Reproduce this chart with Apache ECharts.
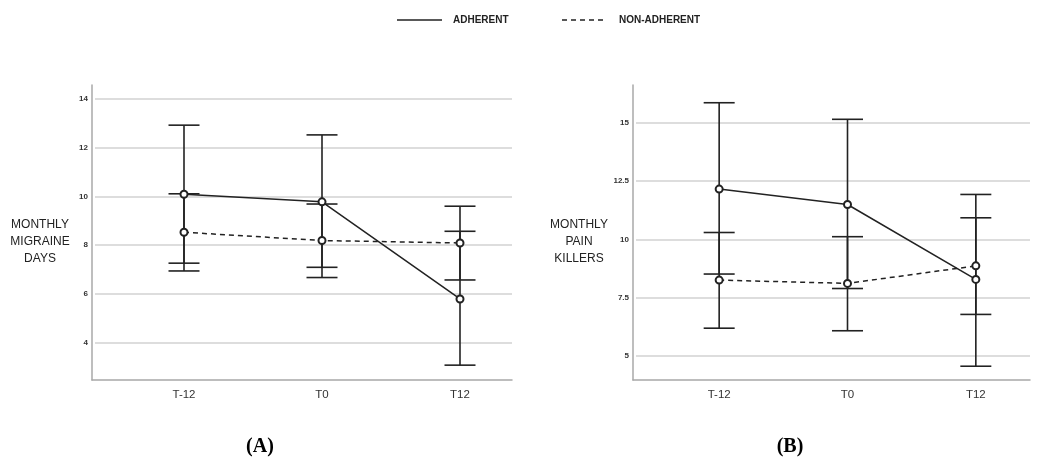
<!DOCTYPE html>
<html><head><meta charset="utf-8">
<script src="https://cdn.jsdelivr.net/npm/echarts@6/dist/echarts.min.js"></script>
<style>html,body{margin:0;padding:0;background:#fff}#c{width:1040px;height:457px}</style>
</head><body><div id="c"></div>
<script>
// ---- data ----
const categories = ['T-12', 'T0', 'T12'];
const seriesNames = ['ADHERENT', 'NON-ADHERENT'];

// Panel A: monthly migraine days
const migraineAdherentMean = [10.08, 9.77, 5.78];
const migraineAdherentLow  = [7.25, 7.08, 3.06];
const migraineAdherentHigh = [12.92, 12.52, 8.56];
const migraineNonMean = [8.52, 8.18, 8.08];
const migraineNonLow  = [6.93, 6.66, 6.56];
const migraineNonHigh = [10.10, 9.68, 9.59];
const migraineTicks = [4, 6, 8, 10, 12, 14];

// Panel B: monthly pain killers
const painAdherentMean = [12.13, 11.47, 8.26];
const painAdherentLow  = [8.49, 7.87, 4.54];
const painAdherentHigh = [15.83, 15.12, 11.90];
const painNonMean = [8.23, 8.09, 8.84];
const painNonLow  = [6.17, 6.06, 6.76];
const painNonHigh = [10.27, 10.09, 10.90];
const painTicks = [5, 7.5, 10, 12.5, 15];

const yTitles = ['MONTHLY\nMIGRAINE\nDAYS', 'MONTHLY\nPAIN\nKILLERS'];
const panelLabels = ['A', 'B'];

// ---- layout ----
const INK = '#222';
const panels = [
  {
    frame: {left: 92, top: 85, width: 420, height: 295}, range: [2.45, 14.57],
    ticksGrid: {left: 95, top: 98.9, width: 417, height: 243.5},
    dataGrid: {left: 115, top: 85, width: 414, height: 295},
    ticks: migraineTicks,
    adh: [migraineAdherentMean, migraineAdherentLow, migraineAdherentHigh],
    non: [migraineNonMean, migraineNonLow, migraineNonHigh],
    titleX: 40, labelX: 260
  },
  {
    frame: {left: 633, top: 85, width: 397, height: 295}, range: [3.95, 16.59],
    ticksGrid: {left: 636, top: 122.7, width: 394, height: 233.3},
    dataGrid: {left: 655, top: 85, width: 403.5, height: 295},
    ticks: painTicks,
    adh: [painAdherentMean, painAdherentLow, painAdherentHigh],
    non: [painNonMean, painNonLow, painNonHigh],
    titleX: 579, labelX: 790
  }
];

const grid = [], xAxis = [], yAxis = [], series = [], graphic = [];

function errRender(params, api) {
  const x = api.value(0), lo = api.value(1), hi = api.value(2);
  const a = api.coord([x, lo]), b = api.coord([x, hi]);
  const hw = 15.5;
  const style = {stroke: INK, lineWidth: 1.6};
  return {type: 'group', children: [
    {type: 'line', shape: {x1: a[0], y1: a[1], x2: b[0], y2: b[1]}, style},
    {type: 'line', shape: {x1: a[0] - hw, y1: a[1], x2: a[0] + hw, y2: a[1]}, style},
    {type: 'line', shape: {x1: b[0] - hw, y1: b[1], x2: b[0] + hw, y2: b[1]}, style}
  ]};
}

panels.forEach((p, k) => {
  const g0 = grid.length;
  // frame grid (axis lines)
  grid.push(Object.assign({containLabel: false}, p.frame));
  xAxis.push({gridIndex: g0, type: 'category', data: [''], axisLine: {show: true, lineStyle: {color: '#a8a8a8', width: 1.5}},
    axisTick: {show: false}, axisLabel: {show: false}, splitLine: {show: false}});
  yAxis.push({gridIndex: g0, type: 'value', min: p.range[0], max: p.range[1], axisLine: {show: true, lineStyle: {color: '#a8a8a8', width: 1.5}},
    axisTick: {show: false}, axisLabel: {show: false}, splitLine: {show: false}});
  // tick grid (gridlines + labels)
  const g1 = grid.length;
  grid.push(Object.assign({containLabel: false}, p.ticksGrid));
  xAxis.push({gridIndex: g1, type: 'category', data: [''], show: false});
  const step = p.ticks[1] - p.ticks[0];
  yAxis.push({gridIndex: g1, type: 'value', min: p.ticks[0], max: p.ticks[p.ticks.length - 1], interval: step,
    axisLine: {show: false}, axisTick: {show: false},
    axisLabel: {show: true, margin: 7, color: '#333', fontSize: 8, fontWeight: 'bold', fontFamily: 'Liberation Sans, Arial, sans-serif'},
    splitLine: {show: true, lineStyle: {color: '#d2d2d2', width: 1.5}}});
  // data grid
  const g2 = grid.length;
  grid.push(Object.assign({containLabel: false}, p.dataGrid));
  xAxis.push({gridIndex: g2, type: 'category', data: categories, boundaryGap: true,
    axisLine: {show: false}, axisTick: {show: false},
    axisLabel: {show: true, margin: 9, color: '#333', fontSize: 11.5, fontFamily: 'Liberation Sans, Arial, sans-serif'},
    splitLine: {show: false}});
  yAxis.push({gridIndex: g2, type: 'value', min: p.range[0], max: p.range[1], show: false, splitLine: {show: false}});

  const groups = [p.adh, p.non];
  groups.forEach((grp, j) => {
    series.push({
      type: 'custom', name: seriesNames[j] + ' CI', xAxisIndex: g2, yAxisIndex: g2,
      renderItem: errRender, clip: false, silent: true, z: 2,
      encode: {x: 0, y: [1, 2]},
      data: categories.map((c, i) => [i, grp[1][i], grp[2][i]])
    });
  });
  groups.forEach((grp, j) => {
    series.push({
      type: 'line', name: seriesNames[j], xAxisIndex: g2, yAxisIndex: g2, clip: false, z: 3,
      data: grp[0], symbol: 'emptyCircle', symbolSize: 7,
      lineStyle: {color: INK, width: 1.5, type: j === 0 ? 'solid' : [5, 4]},
      itemStyle: {color: INK, borderColor: INK, borderWidth: 2},
      animation: false
    });
  });

  graphic.push({type: 'text', x: p.titleX, y: 242, style: {text: yTitles[k], align: 'center', verticalAlign: 'middle',
    fill: INK, fontSize: 12, lineHeight: 17, fontFamily: 'Liberation Sans, Arial, sans-serif'}});
  graphic.push({type: 'text', x: p.labelX, y: 447, style: {text: '(' + panelLabels[k] + ')', align: 'center', verticalAlign: 'middle',
    fill: '#000', fontSize: 20, fontWeight: 'bold', fontFamily: 'Liberation Serif, Times New Roman, serif'}});
});

// legend (drawn)
graphic.push({type: 'line', shape: {x1: 397, y1: 20, x2: 442, y2: 20}, style: {stroke: INK, lineWidth: 1.5}});
graphic.push({type: 'text', x: 453, y: 20, style: {text: seriesNames[0], verticalAlign: 'middle', fill: INK,
  fontSize: 10, fontWeight: 'bold', fontFamily: 'Liberation Sans, Arial, sans-serif'}});
graphic.push({type: 'line', shape: {x1: 562, y1: 20, x2: 607, y2: 20}, style: {stroke: INK, lineWidth: 1.5, lineDash: [5, 4]}});
graphic.push({type: 'text', x: 619, y: 20, style: {text: seriesNames[1], verticalAlign: 'middle', fill: INK,
  fontSize: 10, fontWeight: 'bold', fontFamily: 'Liberation Sans, Arial, sans-serif'}});

const chart = echarts.init(document.getElementById('c'), null, {renderer: 'canvas'});
chart.setOption({
  backgroundColor: '#fff',
  animation: false,
  grid, xAxis, yAxis, series, graphic,
  tooltip: {show: false}
});
</script>
</body></html>
